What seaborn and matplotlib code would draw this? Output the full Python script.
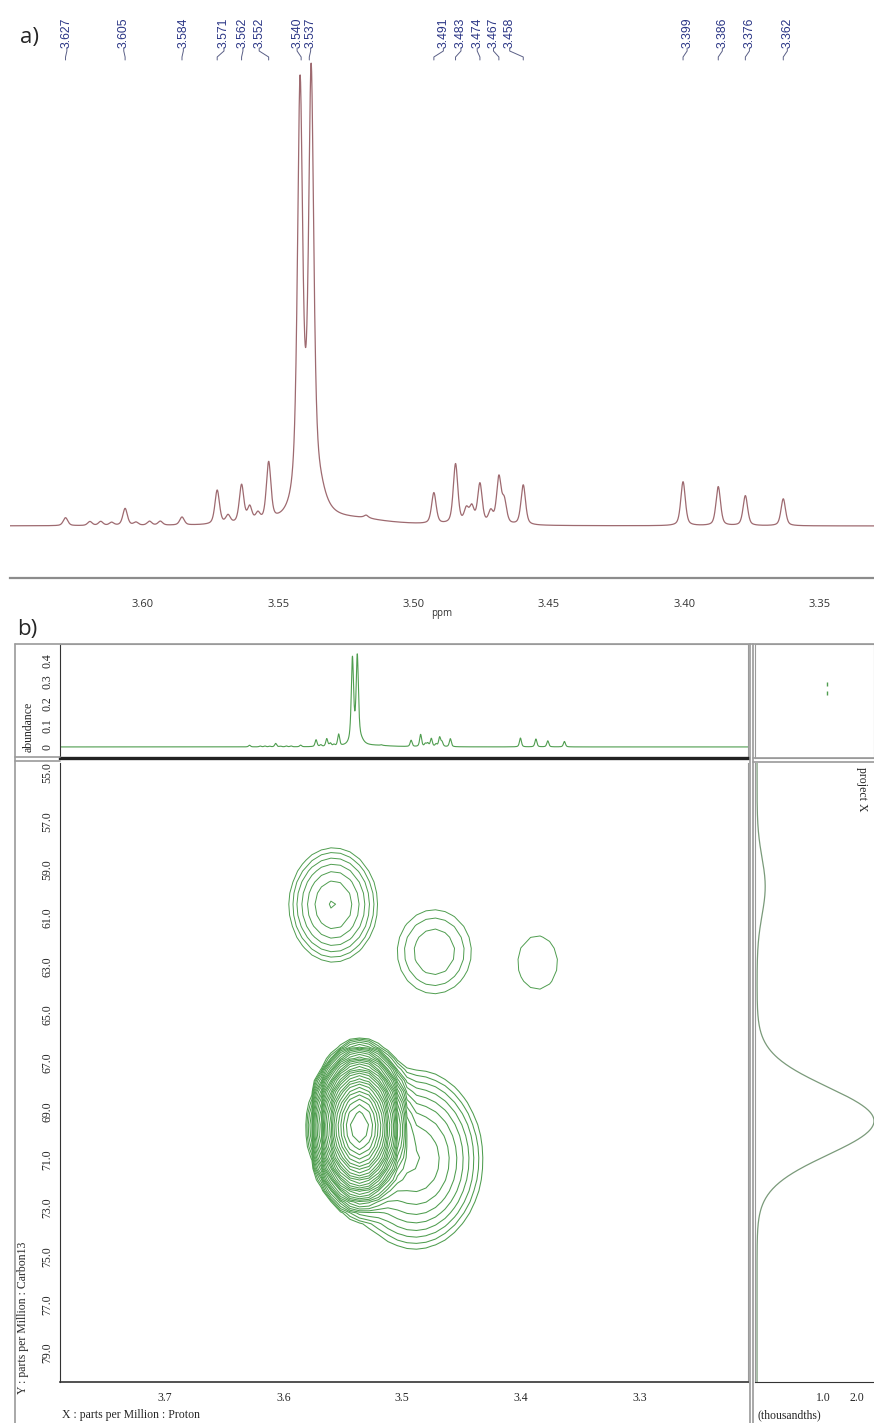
import numpy as np
import pandas as pd
import matplotlib
matplotlib.use("Agg")
import matplotlib.pyplot as plt
import matplotlib.transforms as mtransforms
from matplotlib.ticker import MultipleLocator, FixedLocator, FormatStrFormatter
import seaborn as sns

# ---- 1H spectrum (panel a) : peak list ----
h_shifts = [3.627, 3.618, 3.614, 3.610, 3.605, 3.601, 3.596, 3.592, 3.584,
            3.571, 3.567, 3.562, 3.559, 3.556, 3.552, 3.5404, 3.5363,
            3.491, 3.483, 3.479, 3.477, 3.474, 3.470, 3.467, 3.465, 3.458,
            3.399, 3.386, 3.376, 3.362]
h_heights = [8, 4, 4, 3, 17, 3, 4, 4, 8,
             34, 8, 38, 15, 8, 58, 424, 430,
             31, 60, 14, 16, 40, 12, 46, 22, 40,
             44, 39, 30, 27]
h_widths = [0.001] * 15 + [0.00115, 0.00115] + [0.001] * 13
h_shapes = [0.5] * 15 + [0.7, 0.7] + [0.5] * 13
# broad hump under the main doublet
broad_shifts = [3.533, 3.520, 3.516]
broad_heights = [18, 6, 3]
broad_widths = [0.003, 0.015, 0.001]
ref_offset = 0.0015   # referencing offset between the axis and the picked peaks

label_text = ["3.627", "3.605", "3.584", "3.571", "3.562", "3.552", "3.540", "3.537",
              "3.491", "3.483", "3.474", "3.467", "3.458",
              "3.399", "3.386", "3.376", "3.362"]
label_pos = [3.628, 3.607, 3.585, 3.570, 3.563, 3.557, 3.543, 3.538,
             3.489, 3.4825, 3.4765, 3.4705, 3.4645,
             3.399, 3.386, 3.376, 3.362]

# ---- HSQC cross peaks (panel b) ----
hsqc_h = [3.558, 3.473, 3.386]
hsqc_c = [60.46, 62.4, 62.85]
hsqc_amp = [3.89, 1.9, 1.2]
hsqc_wh = [0.0225, 0.0275, 0.028]
hsqc_wc = [1.43, 1.53, 1.85]
# the big overlapped cross peak (main + shoulder)
big_h = [3.536, 3.489]
big_c = [69.65, 71.0]
big_amp = [808, 6]
big_wh = [0.0117, 0.030]
big_wc = [0.985, 1.95]

# carbon projection (right strip)
proj_c = [59.7, 69.4]
proj_amp = [0.24, 3.44]
proj_wc = [1.2, 1.4]
proj_base = -0.94

corner_x = [1.12, 1.12]
corner_y = [0.25, 0.29]

top_scale = 0.00093

W, H = 874, 1423


def box(l, t, r, b):
    return [l / W, 1 - b / H, (r - l) / W, (b - t) / H]


def pvoigt(x, c, h, w, eta=0.5):
    d = (x - c) / w
    return h * (eta / (1 + d ** 2) + (1 - eta) * np.exp(-np.log(2) * d ** 2))


def h_spectrum(x):
    x = x - ref_offset
    y = np.zeros_like(x)
    for c, h, w, e in zip(h_shifts, h_heights, h_widths, h_shapes):
        y += pvoigt(x, c, h, w, e)
    for c, h, w in zip(broad_shifts, broad_heights, broad_widths):
        y += pvoigt(x, c, h, w, eta=1.0)
    return y


def cross_peaks(X, Y, hs, cs, amps, whs, wcs):
    Z = np.zeros_like(X)
    for h, c, a, sh, sc in zip(hs, cs, amps, whs, wcs):
        Z += a * np.exp(-0.5 * ((X - h) / sh) ** 2 - 0.5 * ((Y - c) / sc) ** 2)
    return Z


sns.set_style("white")
plt.rcParams['font.family'] = ['DejaVu Sans']

fig = plt.figure(figsize=(W / 100, H / 100), dpi=100)
figy = lambda py: 1 - py / H

# ================= panel a =================
ax_a = fig.add_axes(box(10, 56, 874, 578))
ppm = np.linspace(3.66, 3.32, 6000)
df_a = pd.DataFrame({"ppm": ppm, "intensity": h_spectrum(ppm)})
sns.lineplot(data=df_a, x="ppm", y="intensity", ax=ax_a, color="#9e6a70",
             lw=0.9, sort=False, estimator=None)
ax_a.set_xlim(3.649, 3.330)
ax_a.set_ylim(-52, 470)
for s in ["top", "left", "right"]:
    ax_a.spines[s].set_visible(False)
ax_a.spines["bottom"].set_color("#8c8c8c")
ax_a.spines["bottom"].set_linewidth(1.6)
ax_a.set_yticks([])
ax_a.set_ylabel("")
ax_a.xaxis.set_major_locator(MultipleLocator(0.05))
ax_a.xaxis.set_minor_locator(MultipleLocator(0.025))
ax_a.xaxis.set_major_formatter(FormatStrFormatter("%.2f"))
ax_a.tick_params(axis="x", which="both", direction="out", length=3, width=1,
                 color="#8c8c8c", labelsize=8, labelcolor="#333333", pad=12)
for t in ax_a.get_xticklabels():
    t.set_fontfamily("Open Sans")
ax_a.set_xlabel("ppm", fontsize=7, color="#333333", labelpad=-1, family="Open Sans")

trans_a = mtransforms.blended_transform_factory(ax_a.transData, fig.transFigure)
for txt, lp in zip(label_text, label_pos):
    pk = float(txt) + ref_offset
    ax_a.text(lp, figy(48), txt, transform=trans_a, rotation=90, ha="center",
              va="bottom", fontsize=8.8, color="#2a3585", family="Liberation Sans")
    ax_a.plot([lp, lp, pk, pk], [figy(48), figy(51), figy(57), figy(60)],
              transform=trans_a, color="#5a5f86", lw=0.7, clip_on=False)

fig.text(20 / W, figy(37), "a)", fontsize=16, va="center", ha="left", family="Open Sans")
fig.text(17 / W, figy(630), "b)", fontsize=16, va="center", ha="left", family="Open Sans")

# ================= panel b =================
serif = "Liberation Serif"
green = "#4f9d4f"
xlim_b = (3.788, 3.209)
ylim_c = (80.2, 54.59)

# top projection
ax_t = fig.add_axes(box(60, 644, 748, 758))
ppm_b = np.linspace(3.80, 3.20, 5000)
df_t = pd.DataFrame({"ppm": ppm_b, "abundance": h_spectrum(ppm_b) * top_scale})
sns.lineplot(data=df_t, x="ppm", y="abundance", ax=ax_t, color=green, lw=0.8,
             sort=False, estimator=None)
ax_t.set_xlim(*xlim_b)
ax_t.set_ylim(-0.051, 0.475)
ax_t.set_xticks([])
ax_t.set_xlabel("")
ax_t.yaxis.set_major_locator(FixedLocator([0, 0.1, 0.2, 0.3, 0.4]))
ax_t.yaxis.set_minor_locator(MultipleLocator(0.02))
ax_t.set_yticklabels(["0", "0.1", "0.2", "0.3", "0.4"], rotation=90, va="center",
                     family=serif, fontsize=8.5)
ax_t.tick_params(axis="y", which="major", length=4, width=0.8, pad=1, color="#333333")
ax_t.tick_params(axis="y", which="minor", length=2, width=0.6, color="#333333")
ax_t.set_ylabel("abundance", family=serif, fontsize=8.5)
ax_t.yaxis.set_label_coords(-0.037, 0.27)
for s in ["top", "right"]:
    ax_t.spines[s].set_color("#9a9a9a")
ax_t.spines["left"].set_color("#333333")
ax_t.spines["bottom"].set_color("#222222")
ax_t.spines["bottom"].set_linewidth(2.4)

# main HSQC
ax_m = fig.add_axes(box(60, 763, 748, 1382))
gx = np.linspace(3.80, 3.20, 76)
gy = np.linspace(54.5, 80.5, 58)
X, Y = np.meshgrid(gx, gy)
levels = 1.25 ** np.arange(0, 31)
for i in range(len(hsqc_h)):
    Zi = cross_peaks(X, Y, hsqc_h[i:i + 1], hsqc_c[i:i + 1], hsqc_amp[i:i + 1],
                     hsqc_wh[i:i + 1], hsqc_wc[i:i + 1])
    ax_m.contour(X, Y, Zi, levels=levels, colors=green, linewidths=0.7)
Zb = cross_peaks(X, Y, big_h, big_c, big_amp, big_wh, big_wc)
ax_m.contour(X, Y, Zb, levels=levels, colors=green, linewidths=0.75)
ax_m.set_xlim(*xlim_b)
ax_m.set_ylim(*ylim_c)
ax_m.xaxis.set_major_locator(FixedLocator([3.7, 3.6, 3.5, 3.4, 3.3]))
ax_m.xaxis.set_major_formatter(FormatStrFormatter("%.1f"))
ax_m.xaxis.set_minor_locator(MultipleLocator(0.01))
ax_m.yaxis.set_major_locator(FixedLocator(np.arange(55.0, 80.0, 2.0)))
ax_m.yaxis.set_major_formatter(FormatStrFormatter("%.1f"))
ax_m.yaxis.set_minor_locator(MultipleLocator(0.2))
ax_m.tick_params(which="major", length=4, width=0.8, color="#333333", labelsize=8.5)
ax_m.tick_params(which="minor", length=2, width=0.6, color="#333333")
ax_m.tick_params(axis="x", pad=3)
ax_m.tick_params(axis="y", pad=1)
for t in ax_m.get_yticklabels():
    t.set_rotation(90)
    t.set_va("center")
    t.set_fontfamily(serif)
for t in ax_m.get_xticklabels():
    t.set_fontfamily(serif)
ax_m.spines["left"].set_color("#333333")
ax_m.spines["bottom"].set_color("#333333")
ax_m.spines["bottom"].set_linewidth(1.2)
ax_m.spines["top"].set_visible(False)
ax_m.spines["right"].set_color("#9a9a9a")

# right projection
ax_r = fig.add_axes(box(755, 763, 874, 1382))
cax = np.linspace(54.5, 80.5, 800)
proj = np.full_like(cax, proj_base)
for c, a, w in zip(proj_c, proj_amp, proj_wc):
    proj += a * np.exp(-0.5 * ((cax - c) / w) ** 2)
df_r = pd.DataFrame({"carbon": cax, "intensity": proj})
sns.lineplot(data=df_r, x="intensity", y="carbon", orient="y", ax=ax_r,
             color="#7a9a7a", lw=0.9, sort=False, estimator=None)
ax_r.set_ylim(*ylim_c)
ax_r.set_xlim(-1.0, 2.5)
ax_r.set_yticks([])
ax_r.set_ylabel("")
ax_r.set_xlabel("")
ax_r.xaxis.set_major_locator(FixedLocator([1.0, 2.0]))
ax_r.xaxis.set_major_formatter(FormatStrFormatter("%.1f"))
ax_r.xaxis.set_minor_locator(MultipleLocator(0.1))
ax_r.tick_params(axis="x", which="major", length=4, width=0.8, color="#333333",
                 labelsize=8.5, pad=3)
ax_r.tick_params(axis="x", which="minor", length=2, width=0.6, color="#333333")
for t in ax_r.get_xticklabels():
    t.set_fontfamily(serif)
for s in ["top", "right"]:
    ax_r.spines[s].set_visible(False)
ax_r.spines["left"].set_color("#9a9a9a")
ax_r.spines["bottom"].set_color("#333333")

# top-right corner box
ax_c = fig.add_axes(box(755, 644, 874, 758))
sns.scatterplot(x=corner_x, y=corner_y, ax=ax_c, color=green, marker="|", s=12,
                linewidth=1)
ax_c.set_xlim(-1.0, 2.5)
ax_c.set_ylim(-0.051, 0.475)
ax_c.set_xticks([])
ax_c.set_yticks([])
for s in ax_c.spines.values():
    s.set_color("#9a9a9a")

# frame lines of panel b
frame = [((15, 644), (15, 1423)), ((15, 644), (874, 644)),
         ((15, 757), (60, 757)), ((15, 761), (60, 761)),
         ((750, 644), (750, 1423)), ((753, 644), (753, 1423)),
         ((753, 758), (874, 758)), ((753, 762), (874, 762))]
for (x0, y0), (x1, y1) in frame:
    fig.add_artist(plt.Line2D([x0 / W, x1 / W], [figy(y0), figy(y1)],
                              transform=fig.transFigure, color="#9a9a9a", lw=1.2))

fig.text(862 / W, figy(767), "project X", rotation=270, ha="center", va="top",
         family=serif, fontsize=8.5)
fig.text(758 / W, figy(1415), "(thousandths)", ha="left", va="center",
         family=serif, fontsize=8.5)
fig.text(62 / W, figy(1415), "X : parts per Million : Proton", ha="left",
         va="center", family=serif, fontsize=8.5)
fig.text(23 / W, figy(1394), "Y : parts per Million : Carbon13", rotation=90,
         ha="center", va="bottom", family=serif, fontsize=8.5)

fig.savefig("out.png", dpi=100, facecolor="white")
